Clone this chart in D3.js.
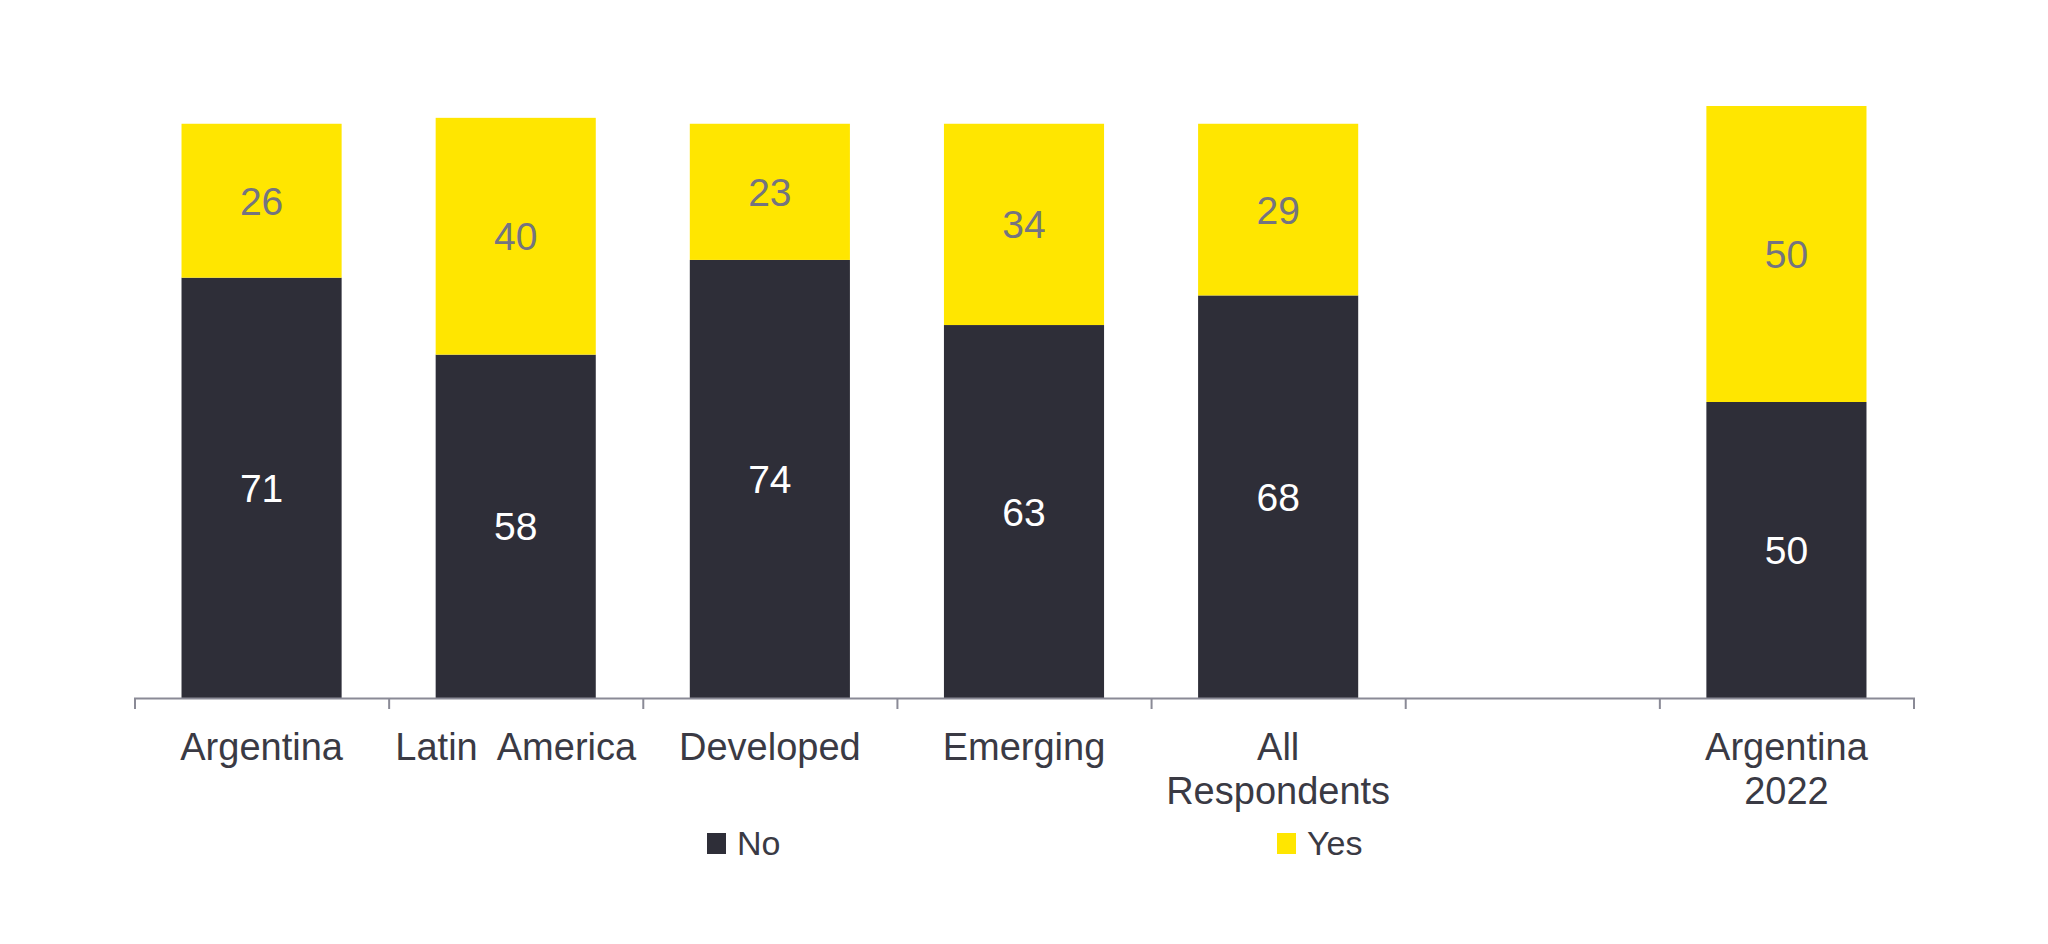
<!DOCTYPE html>
<html>
<head>
<meta charset="utf-8">
<script src="https://cdn.jsdelivr.net/npm/d3@7"></script>
<style>
  body { margin: 0; background: #fff; }
  text { font-family: "Liberation Sans", Arial, sans-serif; }
</style>
</head>
<body>
<svg id="chart" width="2048" height="944"></svg>
<script>
const categories = ["Argentina", "Latin  America", "Developed", "Emerging", "All\nRespondents", "gap", "Argentina\n2022"];
const noValues = [71, 58, 74, 63, 68, null, 50];
const yesValues = [26, 40, 23, 34, 29, null, 50];
const seriesNames = ["No", "Yes"];
const seriesColors = ["#2e2e38", "#ffe600"];
const labelColors = ["#ffffff", "#747480"];

const svg = d3.select("#chart");
const margin = { left: 134.5, right: 134.5, axisY: 698, top: 106 };
const width = +svg.attr("width");

const x = d3.scaleBand()
    .domain(categories)
    .range([margin.left, width - margin.right])
    .paddingInner(0.37)
    .paddingOuter(0.185);

const y = d3.scaleLinear().domain([0, 100]).range([margin.axisY, margin.top]);

// stack rows
const rows = categories.map((c, i) => ({ cat: c, No: noValues[i], Yes: yesValues[i] }))
    .filter(d => d.No != null);
const stacked = d3.stack().keys(seriesNames)(rows);

const layers = svg.append("g").selectAll("g")
    .data(stacked)
    .join("g")
    .attr("fill", (d, i) => seriesColors[i]);

layers.selectAll("rect")
    .data(d => d)
    .join("rect")
    .attr("x", d => x(d.data.cat))
    .attr("width", x.bandwidth())
    .attr("y", d => y(d[1]))
    .attr("height", d => y(d[0]) - y(d[1]));

// value labels
stacked.forEach((layer, li) => {
    svg.append("g").selectAll("text")
        .data(layer)
        .join("text")
        .attr("x", d => x(d.data.cat) + x.bandwidth() / 2)
        .attr("y", d => (y(d[0]) + y(d[1])) / 2)
        .attr("dy", "0.36em")
        .attr("text-anchor", "middle")
        .attr("font-size", 39)
        .attr("fill", labelColors[li])
        .text(d => d.data[layer.key]);
});

// axis line with ticks at band boundaries
const bounds = d3.scaleLinear().domain([0, categories.length]).range(x.range());
svg.append("g")
    .attr("transform", `translate(0,${margin.axisY})`)
    .call(d3.axisBottom(bounds).tickValues(d3.range(categories.length + 1)).tickFormat("").tickSize(11).tickSizeOuter(11))
    .call(g => g.selectAll("path, line").attr("stroke", "#8a8a96").attr("stroke-width", 2));

// category labels
const catAxis = svg.append("g")
    .attr("transform", `translate(0,${margin.axisY})`)
    .call(d3.axisBottom(x).tickSize(0).tickFormat(""));
catAxis.select(".domain").remove();
catAxis.selectAll(".tick").each(function(d) {
    if (d === "gap") return;
    const t = d3.select(this).append("text")
        .attr("y", 62)
        .attr("text-anchor", "middle")
        .attr("font-size", 38)
        .attr("fill", "#3a3a44")
        .style("white-space", "pre");
    d.split("\n").forEach((line, i) => {
        t.append("tspan").attr("x", 0).attr("dy", i === 0 ? 0 : 44).text(line);
    });
});

// legend
const legendX = [707, 1277];
const legend = svg.append("g").attr("transform", "translate(0,833)");
seriesNames.forEach((name, i) => {
    legend.append("rect")
        .attr("x", legendX[i]).attr("y", 0)
        .attr("width", 19).attr("height", 21)
        .attr("fill", seriesColors[i]);
    legend.append("text")
        .attr("x", legendX[i] + 30).attr("y", 22)
        .attr("font-size", 34)
        .attr("fill", "#3a3a44")
        .text(name);
});
</script>
</body>
</html>
